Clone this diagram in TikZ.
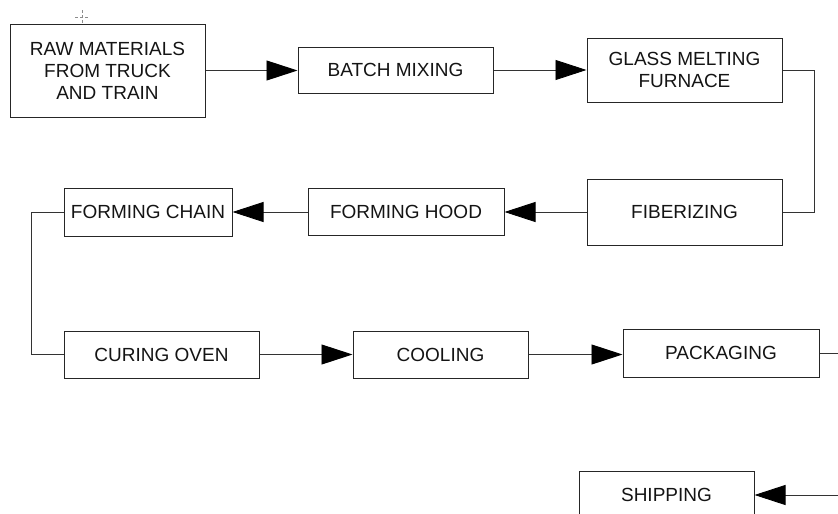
\documentclass[tikz,border=0pt]{standalone}
\usepackage{fontspec}
\setmainfont{Liberation Sans}
\usetikzlibrary{arrows.meta}
\begin{document}
\begin{tikzpicture}[x=1pt,y=-1pt,
  box/.style={draw=black!85,line width=1pt,inner sep=0pt,align=center,font=\fontsize{19}{22}\selectfont,text=black!92},
  conn/.style={draw=black!80,line width=0.9pt},
  arr/.style={conn,-{Triangle[length=31pt,width=20pt,color=black,fill=black]}}]
\useasboundingbox (0,0) rectangle (838,514);
\clip (0,0) rectangle (838,514);
% cursor mark
\draw[black!45,line width=0.6pt,dash pattern=on 3pt off 2pt] (82,10) -- (82,24) (75,17) -- (89,17);
\node[box,minimum width=195pt,minimum height=93pt] (raw) at (107.5,70.5) {RAW MATERIALS\\FROM TRUCK\\AND TRAIN};
\node[box,minimum width=195pt,minimum height=46pt] (batch) at (395.5,70) {BATCH MIXING};
\node[box,minimum width=195pt,minimum height=64pt] (glass) at (684.5,70) {GLASS MELTING\\FURNACE};
\node[box,minimum width=195pt,minimum height=66pt] (fib) at (684.5,212) {FIBERIZING};
\node[box,minimum width=196pt,minimum height=47pt] (hood) at (406,212) {FORMING HOOD};
\node[box,minimum width=168pt,minimum height=48pt] (chain) at (148,212) {FORMING CHAIN};
\node[box,minimum width=195pt,minimum height=47pt] (curing) at (161.5,354.5) {CURING OVEN};
\node[box,minimum width=175pt,minimum height=47pt] (cool) at (440.5,354.5) {COOLING};
\node[box,minimum width=196pt,minimum height=48pt] (pack) at (721,353) {PACKAGING};
\node[box,minimum width=175pt,minimum height=48pt] (ship) at (666.5,495) {SHIPPING};
\draw[arr] (raw.east) -- (raw.east -| batch.west);
\draw[arr] (batch.east) -- (glass.west);
\draw[conn] (glass.east) -- ++(32,0) |- (fib.east);
\draw[arr] (fib.west) -- (hood.east);
\draw[arr] (hood.west) -- (chain.east);
\draw[conn] (chain.west) -- ++(-32,0) |- (curing.west);
\draw[arr] (curing.east) -- (cool.west);
\draw[arr] (cool.east) -- (cool.east -| pack.west);
\draw[arr] (pack.east) -- ++(40,0) |- (ship.east);
\end{tikzpicture}
\end{document}
